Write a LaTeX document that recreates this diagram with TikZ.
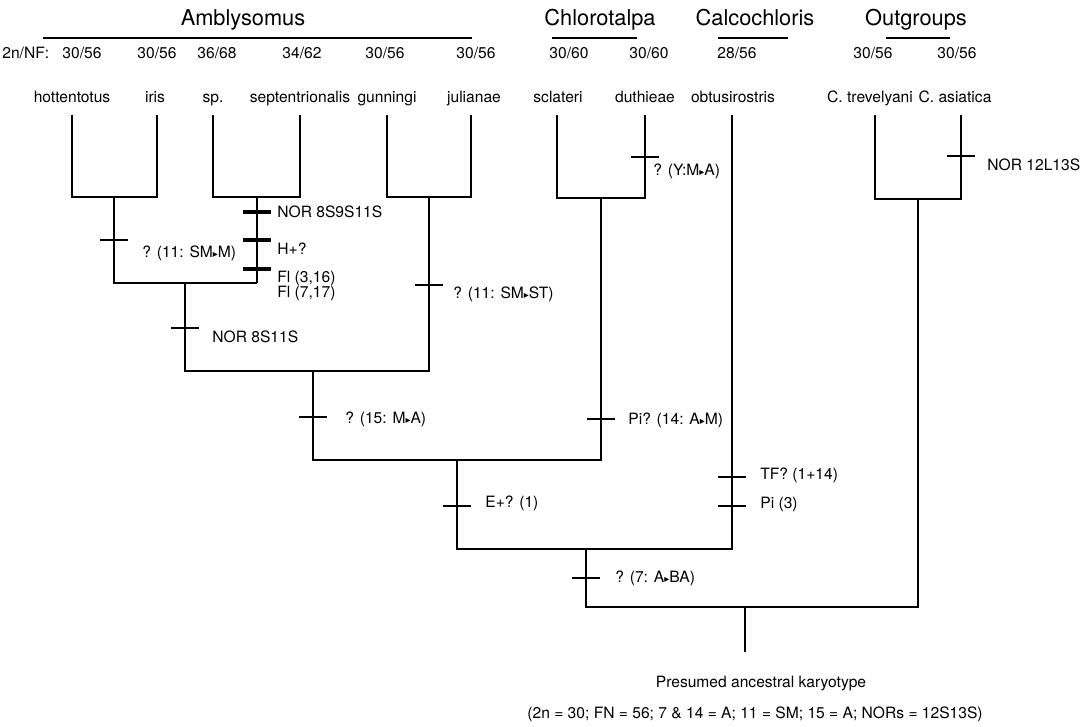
\documentclass[tikz,border=0pt]{standalone}
\usepackage{fontspec}
\setmainfont{TeX Gyre Heros}
\newfontfamily\symfont{DejaVu Sans}
\newcommand{\tri}{{\symfont\fontsize{5}{5}\selectfont ▸}}
\tikzset{
  br/.style={line width=1pt},
  tk/.style={line width=1pt},
  tkb/.style={line width=1.9pt},
  lb/.style={anchor=base west,inner sep=0pt,font=\fontsize{7.8}{9}\selectfont},
  nm/.style={anchor=base,inner sep=0pt,font=\fontsize{7.8}{9}\selectfont},
  hd/.style={anchor=base,inner sep=0pt,font=\fontsize{10.9}{13}\selectfont}
}

\begin{document}
\begin{tikzpicture}[x=0.5pt,y=-0.5pt]
  \useasboundingbox (0,0) rectangle (1091,727);
  % genus headings
  \node[hd] (gAmb) at (243,26) {Amblysomus};
  \node[hd] (gChl) at (600,26) {Chlorotalpa};
  \node[hd] (gCal) at (755,26) {Calcochloris};
  \node[hd] (gOut) at (916,26) {Outgroups};
  \draw[br] (43,38) -- (472,38);
  \draw[br] (552,38) -- (637,38);
  \draw[br] (718,38) -- (788,38);
  \draw[br] (886,38) -- (950,38);
  % 2n/NF and species
  \node[lb] (nf) at (2,59) {2n/NF:};
  \foreach \x/\k [count=\i] in {82/{30/56},157/{30/56},217/{36/68},302/{34/62},385/{30/56},
      476/{30/56},569/{30/60},649/{30/60},737/{28/56},873/{30/56},957/{30/56}}
    \node[nm] (k\i) at (\x,59) {\k};
  \foreach \x/\s [count=\i] in {72/hottentotus,155/iris,213/sp.,300/septentrionalis,387/gunningi,
      474/julianae,558/sclateri,645/duthieae,733/obtusirostris,870/C. trevelyani,955/C. asiatica}
    \node[nm] (s\i) at (\x,103) {\s};
  % leaves
  \coordinate (ho) at (72,115);  \coordinate (ir) at (157,115);
  \coordinate (sp) at (213,115); \coordinate (se) at (300,115);
  \coordinate (gu) at (387,115); \coordinate (ju) at (471,115);
  \coordinate (sc) at (557,115); \coordinate (du) at (645,115);
  \coordinate (ob) at (732,115);
  \coordinate (tr) at (875,115); \coordinate (as) at (961,115);
  % internal nodes
  \coordinate (hi) at (114,197); \coordinate (ss) at (257,197);
  \coordinate (gj) at (429,197); \coordinate (cd) at (601,198);
  \coordinate (og) at (918,199);
  \coordinate (n1) at (185,283); \coordinate (am) at (313,371);
  \coordinate (ac) at (457,460); \coordinate (ab) at (586,549);
  \coordinate (rt) at (745,607); \coordinate (anc) at (745,652);
  % tree
  \draw[br] (ho) |- (hi) -| (ir);
  \draw[br] (sp) |- (ss) -| (se);
  \draw[br] (gu) |- (gj) -| (ju);
  \draw[br] (sc) |- (cd) -| (du);
  \draw[br] (tr) |- (og) -| (as);
  \draw[br] (hi) |- (n1) -- (n1 -| ss);
  \draw[line width=1.4pt] (n1 -| ss) -- (ss);
  \draw[br] (n1) |- (am) -| (gj);
  \draw[br] (am) |- (ac) -| (cd);
  \draw[br] (ac) |- (ab) -| (ob);
  \draw[br] (ab) |- (rt) -| (og);
  \draw[br] (rt) -- (anc);
  % character changes
  \foreach \x/\y in {114/240,185/328,429/285,645/157,313/417,601/419,457/506,
      732/477,732/506,586/578,961/156}
    \draw[tk] (\x-14,\y) -- (\x+14,\y);
  \foreach \y in {212,240,269}
    \draw[tkb] (243,\y) -- (271,\y);
  \node[lb] (c1) at (142,257) {? (11: SM\tri M)};
  \node[lb] (c2) at (277,218) {NOR 8S9S11S};
  \node[lb] (c3) at (277,255) {H+?};
  \node[lb] (c4) at (277,282) {Fl (3,16)};
  \node[lb] (c5) at (277,297) {Fl (7,17)};
  \node[lb] (c6) at (212,342) {NOR 8S11S};
  \node[lb] (c7) at (453,298) {? (11: SM\tri ST)};
  \node[lb] (c8) at (653,176) {? (Y:M\tri A)};
  \node[lb] (c9) at (345,423) {? (15: M\tri A)};
  \node[lb] (c10) at (628,424) {Pi? (14: A\tri M)};
  \node[lb] (c11) at (485,507) {E+? (1)};
  \node[lb] (c12) at (760,479) {TF? (1+14)};
  \node[lb] (c13) at (760,508) {Pi (3)};
  \node[lb] (c14) at (615,582) {? (7: A\tri BA)};
  \node[lb] (c15) at (987,171) {NOR 12L13S};
  % ancestor
  \node[nm] (pak) at (761,687) {Presumed ancestral karyotype};
  \node[lb] (pkf) at (527,718) {(2n = 30; FN = 56; 7 \& 14 = A; 11 = SM; 15 = A; NORs = 12S13S)};
\end{tikzpicture}
\end{document}
